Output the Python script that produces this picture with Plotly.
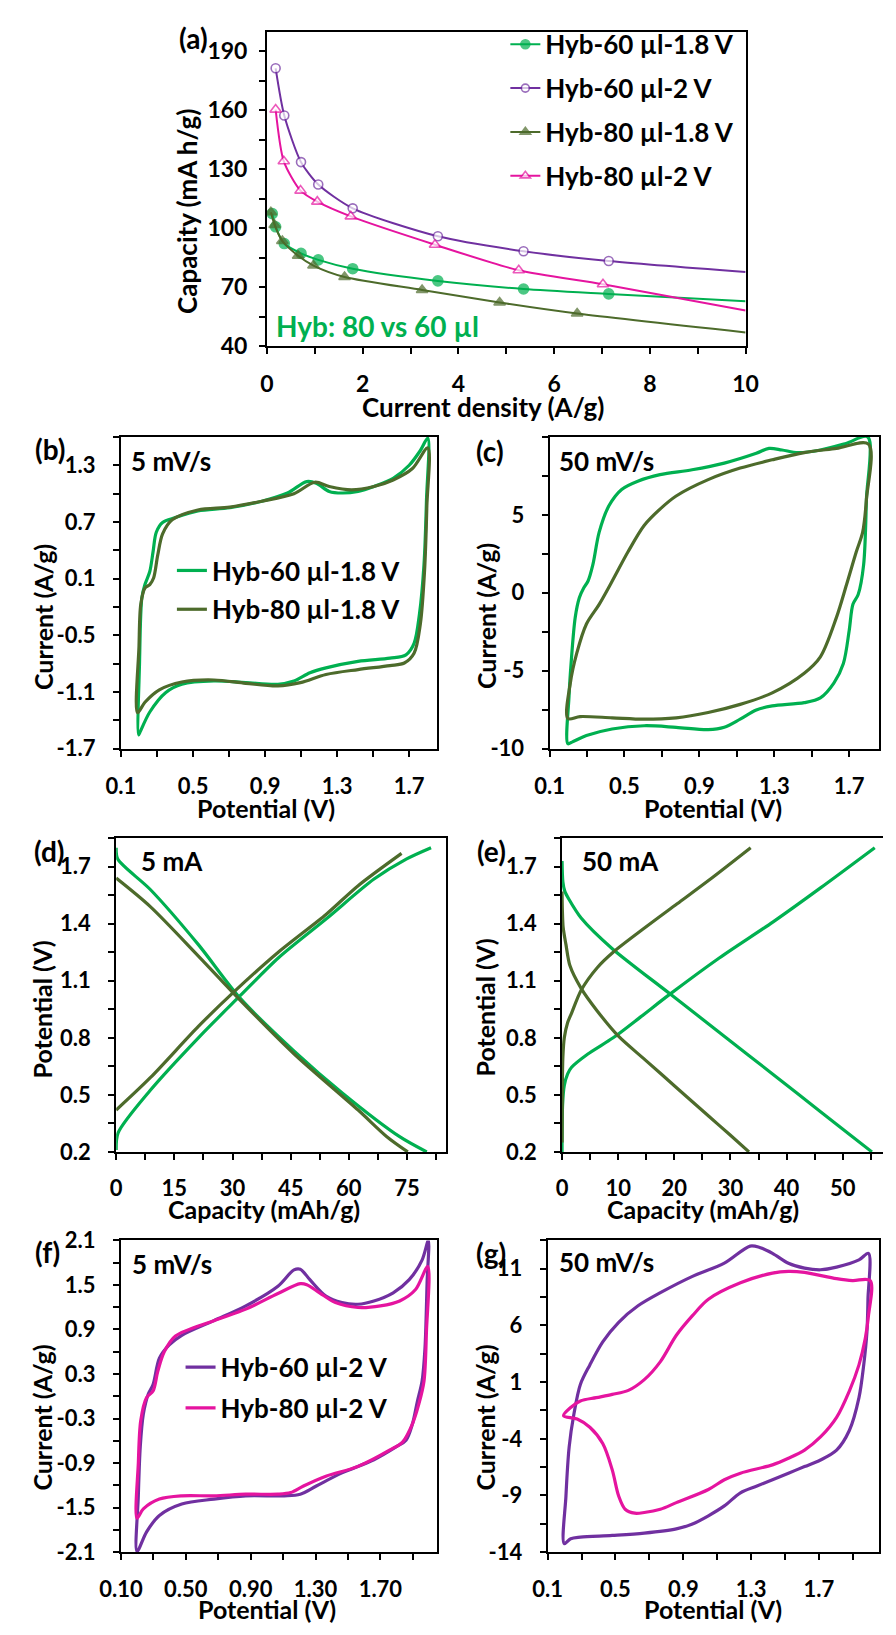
import plotly.graph_objects as go

FONT = "Lato"
W, H = 896, 1635
GREEN = "#00B050"
OLIVE = "#4D6B2B"
PURPLE = "#7030A0"
PINK = "#E5149F"

# ---------------- (a) rate capability ----------------
a_cd_60_18 = [0.11, 0.18, 0.36, 0.71, 1.07, 1.79, 3.57, 5.36, 7.14]
a_cap_60_18 = [107.5, 100.8, 92.3, 87.3, 84.0, 79.5, 73.3, 69.2, 66.7]
a_cd_60_2 = [0.18, 0.36, 0.71, 1.07, 1.79, 3.57, 5.36, 7.14]
a_cap_60_2 = [181.4, 157.4, 133.7, 122.3, 110.2, 96.0, 88.4, 83.4]
a_cd_80_18 = [0.08, 0.16, 0.32, 0.65, 0.97, 1.62, 3.24, 4.86, 6.48]
a_cap_80_18 = [108.2, 101.7, 93.6, 86.1, 81.1, 75.3, 68.7, 62.3, 56.7]
a_cd_80_2 = [0.18, 0.35, 0.70, 1.05, 1.75, 3.51, 5.26, 7.02]
a_cap_80_2 = [160.4, 134.1, 119.2, 113.6, 106.1, 91.7, 78.7, 71.6]
a_end_cd = 10
a_end_60_18 = 63.0
a_end_60_2 = 77.8
a_end_80_18 = 47.1
a_end_80_2 = 58.3

# ---------------- (b) CV 5 mV/s, 1.8 V ----------------
b_v60 = [0.198, 0.203, 0.216, 0.233, 0.260, 0.278, 0.296, 0.331, 0.402, 0.527, 0.704, 0.882, 1.024, 1.131,
         1.184, 1.256, 1.327, 1.416, 1.504, 1.611, 1.700, 1.762, 1.803,
         1.796, 1.782, 1.757, 1.727, 1.682, 1.593, 1.416, 1.238, 1.149, 1.060, 0.971, 0.793, 0.616, 0.438,
         0.349, 0.260, 0.207]
b_i60 = [-1.555, -0.793, -0.101, 0.037, 0.175, 0.383, 0.591, 0.694, 0.746, 0.816, 0.850, 0.919, 1.006, 1.127,
         1.110, 1.023, 1.006, 1.023, 1.075, 1.162, 1.300, 1.456, 1.587,
         0.937, 0.245, -0.274, -0.586, -0.707, -0.742, -0.776, -0.845, -0.897, -0.984, -1.018, -1.001, -0.984,
         -1.018, -1.105, -1.312, -1.520]
b_v80 = [0.192, 0.200, 0.210, 0.233, 0.260, 0.281, 0.304, 0.331, 0.384, 0.527, 0.704, 0.882, 1.060, 1.176,
         1.256, 1.380, 1.504, 1.611, 1.718, 1.803,
         1.798, 1.785, 1.762, 1.727, 1.673, 1.593, 1.416, 1.238, 1.096, 0.971, 0.793, 0.616, 0.438, 0.313, 0.233]
b_i80 = [-1.319, -0.620, -0.171, 0.000, 0.037, 0.106, 0.348, 0.573, 0.722, 0.826, 0.857, 0.919, 0.999, 1.120,
         1.075, 1.040, 1.075, 1.144, 1.265, 1.483,
         0.868, 0.175, -0.378, -0.690, -0.793, -0.821, -0.863, -0.915, -1.001, -1.036, -1.008, -0.973, -0.994,
         -1.077, -1.209]

# ---------------- (c) CV 50 mV/s, 1.8 V ----------------
c_v60 = [0.198, 0.204, 0.215, 0.237, 0.259, 0.283, 0.305, 0.331, 0.365, 0.417, 0.485, 0.571, 0.690, 0.861,
         1.033, 1.204, 1.272, 1.341, 1.426, 1.546, 1.683, 1.799,
         1.792, 1.777, 1.748, 1.720, 1.700, 1.669, 1.618, 1.546, 1.460, 1.289, 1.204, 1.118, 1.033, 0.947,
         0.776, 0.605, 0.434, 0.297, 0.220]
c_i60 = [-9.68, -6.63, -4.53, -1.58, -0.32, 0.32, 0.74, 1.79, 3.89, 5.58, 6.63, 7.16, 7.58, 7.89,
         8.32, 8.95, 9.26, 9.16, 8.99, 9.16, 9.58, 10.0,
         6.0, 1.79, -0.11, -0.74, -2.42, -4.53, -5.79, -6.74, -7.05, -7.26, -7.52, -8.11, -8.63, -8.78,
         -8.63, -8.53, -8.74, -9.16, -9.58]
c_v80 = [0.198, 0.211, 0.245, 0.297, 0.365, 0.434, 0.519, 0.605, 0.690, 0.776, 0.947, 1.118, 1.289, 1.460,
         1.632, 1.803,
         1.792, 1.772, 1.738, 1.686, 1.632, 1.546, 1.460, 1.289, 1.118, 0.947, 0.776, 0.605, 0.434, 0.263]
c_i80 = [-8.06, -5.79, -3.89, -2.00, -0.74, 0.74, 2.63, 4.32, 5.37, 6.21, 7.26, 8.00, 8.53, 8.99,
         9.26, 9.54,
         6.0, 3.89, 2.63, 0.53, -1.58, -4.11, -5.16, -6.42, -7.16, -7.68, -8.02, -8.11, -8.02, -7.94]

# ---------------- (d) GCD 5 mA ----------------
d_q60_ch = [0, 0.5, 8.8, 21.2, 31.9, 41.8, 54.2, 66.5, 74.8, 81.2]
d_v60_ch = [0.21, 0.30, 0.524, 0.80, 1.02, 1.22, 1.426, 1.635, 1.74, 1.80]
d_q60_dis = [0, 0.4, 8.8, 21.2, 31.9, 45.9, 58.3, 73.1, 80.1]
d_v60_dis = [1.80, 1.74, 1.58, 1.29, 1.01, 0.73, 0.51, 0.28, 0.20]
d_q80_ch = [0, 8.8, 21.2, 30.3, 41.8, 54.2, 62.4, 73.6]
d_v80_ch = [0.42, 0.59, 0.86, 1.04, 1.25, 1.45, 1.60, 1.77]
d_q80_dis = [0, 8.8, 21.2, 31.9, 45.9, 62.4, 69.8, 75.2]
d_v80_dis = [1.64, 1.49, 1.23, 1.00, 0.715, 0.42, 0.28, 0.20]

# ---------------- (e) GCD 50 mA ----------------
e_q60_ch = [0, 0.1, 0.4, 1.0, 1.7, 4.6, 9.1, 14.0, 19.1, 28.0, 37.6, 46.1, 55.7]
e_v60_ch = [0.20, 0.45, 0.55, 0.61, 0.645, 0.715, 0.80, 0.91, 1.027, 1.22, 1.41, 1.59, 1.80]
e_q60_dis = [0, 0.15, 0.5, 1.2, 3.4, 8.9, 19.1, 29.0, 37.6, 46.1, 51.5, 55.2]
e_v60_dis = [1.73, 1.62, 1.57, 1.53, 1.43, 1.27, 1.034, 0.806, 0.607, 0.41, 0.285, 0.20]
e_q80_ch = [0, 0.05, 0.15, 0.4, 1.0, 1.7, 3.4, 6.3, 9.1, 14.8, 20.5, 26.2, 33.6]
e_v80_ch = [0.25, 0.55, 0.70, 0.80, 0.88, 0.93, 1.05, 1.17, 1.25, 1.38, 1.505, 1.63, 1.80]
e_q80_dis = [0, 0.05, 0.2, 0.7, 1.4, 3.4, 6.3, 10.0, 14.8, 20.5, 26.2, 29.9, 33.3]
e_v80_dis = [1.57, 1.48, 1.38, 1.29, 1.18, 1.06, 0.94, 0.81, 0.684, 0.535, 0.386, 0.29, 0.20]

# ---------------- (f) CV 5 mV/s, 2 V ----------------
f_v60 = [0.199, 0.207, 0.219, 0.238, 0.268, 0.298, 0.337, 0.396, 0.475, 0.673, 0.870, 1.068, 1.167, 1.206,
         1.265, 1.364, 1.463, 1.562, 1.660, 1.779, 1.878, 1.957, 1.996,
         1.988, 1.975, 1.957, 1.929, 1.898, 1.858, 1.799, 1.660, 1.463, 1.305, 1.206, 1.107, 0.870, 0.673,
         0.475, 0.337, 0.258]
f_i60 = [-2.09, -1.34, -0.68, -0.24, 0.027, 0.159, 0.512, 0.688, 0.821, 1.019, 1.218, 1.482, 1.703, 1.712,
         1.571, 1.350, 1.262, 1.240, 1.284, 1.394, 1.571, 1.835, 2.10,
         1.527, 0.644, 0.203, -0.061, -0.370, -0.591, -0.679, -0.855, -1.032, -1.208, -1.319, -1.341, -1.341,
         -1.385, -1.451, -1.605, -1.826]
f_v80 = [0.199, 0.207, 0.222, 0.258, 0.298, 0.327, 0.367, 0.436, 0.673, 0.870, 1.068, 1.206, 1.246, 1.325,
         1.423, 1.562, 1.700, 1.819, 1.917, 1.992,
         1.984, 1.969, 1.937, 1.898, 1.838, 1.759, 1.562, 1.364, 1.226, 1.147, 1.068, 0.870, 0.673, 0.475,
         0.337, 0.238]
f_i80 = [-1.641, -0.900, -0.326, -0.017, 0.071, 0.336, 0.600, 0.812, 1.019, 1.174, 1.385, 1.518, 1.504, 1.394,
         1.262, 1.196, 1.218, 1.284, 1.438, 1.747,
         0.865, 0.203, -0.106, -0.370, -0.613, -0.723, -0.944, -1.076, -1.208, -1.297, -1.319, -1.319, -1.341,
         -1.341, -1.385, -1.517]

# ---------------- (g) CV 50 mV/s, 2 V ----------------
g_v60 = [0.198, 0.208, 0.227, 0.255, 0.293, 0.349, 0.425, 0.519, 0.633, 0.765, 0.954, 1.142, 1.294, 1.350,
         1.426, 1.520, 1.615, 1.709, 1.804, 1.936, 1.992,
         1.989, 1.983, 1.964, 1.936, 1.879, 1.804, 1.709, 1.615, 1.520, 1.426, 1.331, 1.237, 1.142, 1.048,
         0.954, 0.859, 0.670, 0.481, 0.293, 0.236]
g_i60 = [-13.25, -9.05, -4.71, -1.82, 0.79, 2.52, 4.55, 6.28, 7.73, 8.89, 10.33, 11.49, 13.0, 12.88,
         12.36, 11.49, 11.06, 10.91, 11.14, 11.78, 12.36,
         8.31, 5.42, 2.52, -0.37, -3.27, -5.0, -5.87, -6.45, -7.03, -7.61, -8.18, -8.76, -9.92, -10.79,
         -11.51, -11.95, -12.32, -12.52, -12.67, -12.81]
g_v80 = [0.194, 0.236, 0.293, 0.387, 0.481, 0.576, 0.670, 0.765, 0.859, 0.954, 1.048, 1.237, 1.426, 1.520,
         1.615, 1.804, 1.898, 2.002,
         1.992, 1.973, 1.936, 1.879, 1.804, 1.709, 1.615, 1.520, 1.426, 1.237, 1.142, 1.048, 0.859, 0.765,
         0.670, 0.614, 0.557, 0.519, 0.481, 0.425, 0.349, 0.274]
g_i80 = [-1.96, -1.24, -0.66, -0.37, -0.08, 0.27, 1.22, 2.81, 5.13, 6.86, 8.31, 9.76, 10.62, 10.77,
         10.68, 10.13, 9.96, 9.96,
         6.86, 4.84, 2.52, 0.21, -2.11, -3.84, -5.0, -5.72, -6.30, -7.03, -7.61, -8.47, -9.63, -10.21,
         -10.50, -10.56, -10.21, -9.05, -6.74, -4.42, -2.98, -2.25]

# ---------------- tick labels ----------------
a_xticks = [0, 2, 4, 6, 8, 10]
a_yticks = [40, 70, 100, 130, 160, 190]
b_xticks = [0.1, 0.5, 0.9, 1.3, 1.7]
b_xtext = ["0.1", "0.5", "0.9", "1.3", "1.7"]
b_yticks = [-1.7, -1.1, -0.5, 0.1, 0.7, 1.3]
b_ytext = ["-1.7", "-1.1", "-0.5", "0.1", "0.7", "1.3"]
c_yticks = [-10, -5, 0, 5]
c_ytext = ["-10", "-5", "0", "5"]
d_xticks = [0, 15, 30, 45, 60, 75]
d_yticks = [0.2, 0.5, 0.8, 1.1, 1.4, 1.7]
d_ytext = ["0.2", "0.5", "0.8", "1.1", "1.4", "1.7"]
e_xticks = [0, 10, 20, 30, 40, 50]
f_xtext = ["0.10", "0.50", "0.90", "1.30", "1.70"]
f_yticks = [-2.1, -1.5, -0.9, -0.3, 0.3, 0.9, 1.5, 2.1]
f_ytext = ["-2.1", "-1.5", "-0.9", "-0.3", "0.3", "0.9", "1.5", "2.1"]
g_yticks = [-14, -9, -4, 1, 6, 11]
g_ytext = ["-14", "-9", "-4", "1", "6", "11"]

fig = go.Figure()


def ax_ids(i):
    return ("x", "y") if i == 1 else (f"x{i}", f"y{i}")


def loop(xs, ys, color, name, i, legend=None):
    xa, ya = ax_ids(i)
    fig.add_trace(go.Scatter(
        x=xs + xs[:1], y=ys + ys[:1], mode="lines", name=name,
        line=dict(color=color, width=3.2, shape="spline", smoothing=0.9),
        xaxis=xa, yaxis=ya, showlegend=legend is not None,
        legend=legend if legend else "legend", legendgroup=name + str(i)))


def curve(xs, ys, color, i):
    xa, ya = ax_ids(i)
    fig.add_trace(go.Scatter(
        x=xs, y=ys, mode="lines", line=dict(color=color, width=3.2, shape="spline", smoothing=0.8),
        xaxis=xa, yaxis=ya, showlegend=False))


def rate(xs, ys, end, color, symbol, fill, size, name):
    sizes = [size] * len(xs) + [0]
    fig.add_trace(go.Scatter(
        x=xs + [a_end_cd], y=ys + [end], mode="lines+markers", name=name,
        line=dict(color=color, width=2, shape="spline", smoothing=0.7),
        marker=dict(symbol=symbol, size=sizes, color=fill, line=dict(color=color, width=1.6)),
        xaxis="x", yaxis="y", legend="legend", legendgroup=name))


# (a)
rate(a_cd_60_18, a_cap_60_18, a_end_60_18, GREEN, "circle", GREEN, 10, "Hyb-60 µl-1.8 V")
rate(a_cd_60_2, a_cap_60_2, a_end_60_2, PURPLE, "circle", "white", 9, "Hyb-60 µl-2 V")
rate(a_cd_80_18, a_cap_80_18, a_end_80_18, OLIVE, "triangle-up", OLIVE, 10, "Hyb-80 µl-1.8 V")
rate(a_cd_80_2, a_cap_80_2, a_end_80_2, PINK, "triangle-up", "white", 10, "Hyb-80 µl-2 V")
# (b)
loop(b_v60, b_i60, GREEN, "Hyb-60 µl-1.8 V", 2, "legend2")
loop(b_v80, b_i80, OLIVE, "Hyb-80 µl-1.8 V", 2, "legend2")
# (c)
loop(c_v60, c_i60, GREEN, "c60", 3)
loop(c_v80, c_i80, OLIVE, "c80", 3)
# (d)
curve(d_q60_ch, d_v60_ch, GREEN, 4)
curve(d_q60_dis, d_v60_dis, GREEN, 4)
curve(d_q80_ch, d_v80_ch, OLIVE, 4)
curve(d_q80_dis, d_v80_dis, OLIVE, 4)
# (e)
curve(e_q60_ch, e_v60_ch, GREEN, 5)
curve(e_q60_dis, e_v60_dis, GREEN, 5)
curve(e_q80_ch, e_v80_ch, OLIVE, 5)
curve(e_q80_dis, e_v80_dis, OLIVE, 5)
# (f)
loop(f_v60, f_i60, PURPLE, "Hyb-60 µl-2 V", 6, "legend3")
loop(f_v80, f_i80, PINK, "Hyb-80 µl-2 V", 6, "legend3")
# (g)
loop(g_v60, g_i60, PURPLE, "g60", 7)
loop(g_v80, g_i80, PINK, "g80", 7)

# ---------------- axes ----------------
BOXES = {
    1: (255, 753, 18, 338),
    2: (103, 432, 430, 747),
    3: (549, 892, 430, 747),
    4: (98, 441, 838, 1157),
    5: (562, 896, 838, 1157),
    6: (103, 432, 1247, 1564),
    7: (547, 892, 1247, 1564),
}


def tickfont(size=23):
    return dict(family=FONT, size=size, color="black", weight="bold")


def axis(domain, rng, tickvals, ticktext, minor_tick0, minor_dtick, anchor, mirror=True,
         standoff=10, fsize=23):
    return dict(
        domain=domain, range=rng, anchor=anchor, tickmode="array", tickvals=tickvals,
        ticktext=ticktext, showline=True, linecolor="black", linewidth=2, mirror=mirror,
        ticks="outside", ticklen=6, tickwidth=2, tickcolor="black", showgrid=False,
        zeroline=False, tickfont=tickfont(fsize), ticklabelstandoff=standoff,
        minor=dict(tickmode="linear", tick0=minor_tick0, dtick=minor_dtick, ticks="outside",
                   ticklen=6, tickwidth=2, tickcolor="black", showgrid=False))


def dom(i):
    l, r, t, b = BOXES[i]
    return [l / W, min(r / W, 1.0)], [1 - b / H, 1 - t / H]


spec = {
    1: dict(x=([0, 10], a_xticks, [str(v) for v in a_xticks], 0, 1),
            y=([40, 200], a_yticks, [str(v) for v in a_yticks], 40, 15)),
    2: dict(x=([0.1, 1.855], b_xticks, b_xtext, 0.1, 0.2),
            y=([-1.7, 1.6], b_yticks, b_ytext, -1.7, 0.3)),
    3: dict(x=([0.1, 1.86], b_xticks, b_xtext, 0.1, 0.2),
            y=([-10, 10], c_yticks, c_ytext, -10, 2.5)),
    4: dict(x=([0, 85], d_xticks, [str(v) for v in d_xticks], 0, 7.5),
            y=([0.2, 1.85], d_yticks, d_ytext, 0.2, 0.15)),
    5: dict(x=([0, 57.17], e_xticks, [str(v) for v in e_xticks], 0, 5),
            y=([0.2, 1.85], d_yticks, d_ytext, 0.2, 0.15)),
    6: dict(x=([0.1, 2.05], b_xticks, f_xtext, 0.1, 0.2),
            y=([-2.1, 2.1], f_yticks, f_ytext, -2.1, 0.3)),
    7: dict(x=([0.1, 2.055], b_xticks, b_xtext, 0.1, 0.2),
            y=([-14, 13.5], g_yticks, g_ytext, -14, 2.5)),
}
X_STANDOFF = {1: 10, 2: 11, 3: 11, 4: 10, 5: 10, 6: 10, 7: 10}

layout_axes = {}
for i in range(1, 8):
    xd, yd = dom(i)
    xa, ya = ax_ids(i)
    xr, xv, xt, x0, xdt = spec[i]["x"]
    yr, yv, yt, y0, ydt = spec[i]["y"]
    fs = 23 if i == 1 else 22
    xkey = "xaxis" if i == 1 else f"xaxis{i}"
    ykey = "yaxis" if i == 1 else f"yaxis{i}"
    layout_axes[xkey] = axis(xd, xr, xv, xt, x0, xdt, ya, True, X_STANDOFF[i], fs)
    layout_axes[ykey] = axis(yd, yr, yv, yt, y0, ydt, xa, i != 5, 7 if i == 1 else 13, fs)

# ---------------- text ----------------
ann = []


def text(s, x, y, size, xanchor="center", angle=0, color="black"):
    ann.append(dict(text=s, x=x / W, y=1 - y / H, xref="paper", yref="paper", showarrow=False,
                    xanchor=xanchor, yanchor="middle", textangle=angle,
                    font=dict(family=FONT, size=size, color=color, weight="bold")))


for s, x, y in [("(a)", 178, 24), ("(b)", 29, 442), ("(c)", 487, 444), ("(d)", 29, 851),
                ("(e)", 489, 851), ("(f)", 27, 1259), ("(g)", 488, 1260)]:
    text(s, x, y, 28)

for s, x, y in [("5 mV/s", 111, 454), ("50 mV/s", 557, 454), ("5 mA", 122, 861), ("50 mA", 581, 861),
                ("5 mV/s", 112, 1271), ("50 mV/s", 557, 1269)]:
    text(s, x, y, 26, xanchor="left")

text("Hyb: 80 vs 60 µl", 262, 317, 28, xanchor="left", color=GREEN)

text("Capacity (mA h/g)", 171, 201, 26, angle=-90)
text("Current density (A/g)", 480, 400, 26)
for s, x, y in [("Current (A/g)", 22, 613), ("Current (A/g)", 483, 612), ("Potential (V)", 21, 1012),
                ("Potential (V)", 482, 1010), ("Current (A/g)", 21, 1427), ("Current (A/g)", 482, 1427)]:
    text(s, x, y, 25, angle=-90)
for s, x, y in [("Potential (V)", 254, 807), ("Potential (V)", 719, 807), ("Capacity (mAh/g)", 252, 1215),
                ("Capacity (mAh/g)", 709, 1215), ("Potential (V)", 255, 1622), ("Potential (V)", 719, 1622)]:
    text(s, x, y, 25)

leg_font = dict(family=FONT, size=26, color="black", weight="bold")
fig.update_layout(
    width=W, height=H, margin=dict(l=0, r=0, t=0, b=0),
    paper_bgcolor="white", plot_bgcolor="white",
    font=dict(family=FONT, color="black"),
    annotations=ann,
    legend=dict(x=503 / W, y=1 - 7 / H, xanchor="left", yanchor="top", font=leg_font,
                bgcolor="rgba(0,0,0,0)", tracegroupgap=7, itemwidth=30),
    legend2=dict(x=156 / W, y=1 - 542 / H, xanchor="left", yanchor="top", font=leg_font,
                 bgcolor="rgba(0,0,0,0)", tracegroupgap=2, itemwidth=30),
    legend3=dict(x=165 / W, y=1 - 1352 / H, xanchor="left", yanchor="top", font=leg_font,
                 bgcolor="rgba(0,0,0,0)", tracegroupgap=4, itemwidth=30),
    **layout_axes,
)

fig.write_html("out.html")
